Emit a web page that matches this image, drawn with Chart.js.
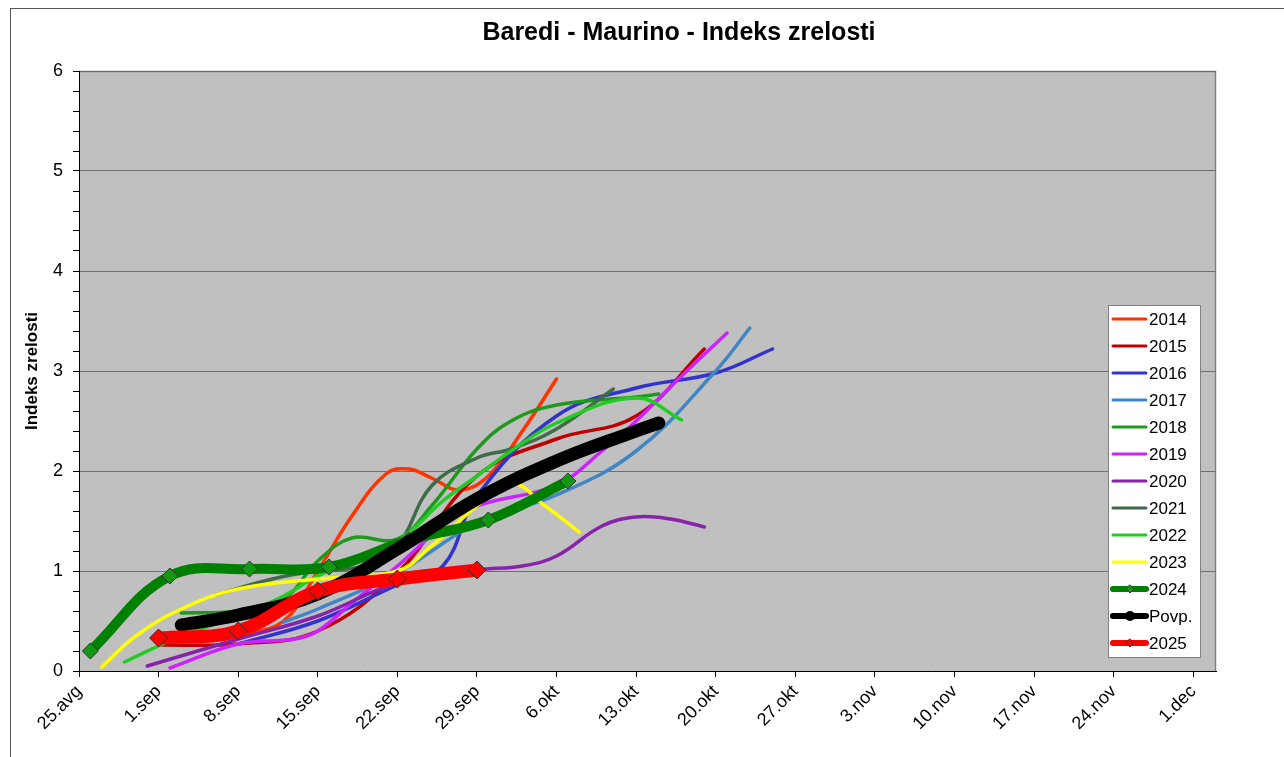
<!DOCTYPE html>
<html>
<head>
<meta charset="utf-8">
<script src="https://cdn.jsdelivr.net/npm/chart.js@4.4.1/dist/chart.umd.min.js"></script>
<style>
  html, body { margin: 0; padding: 0; background: #fff; overflow: hidden; }
  #frame { position: absolute; left: 10px; top: 8px; width: 1400px; height: 900px;
           border-left: 1px solid #555; border-top: 1px solid #555; }
  #chart { position: absolute; left: 0; top: 0; }
</style>
</head>
<body>
<div id="frame"></div>
<canvas id="chart" width="1284" height="757"></canvas>
<script>
// x = days after 25.avg, y = maturity index
const dayLabels = ['25.avg', '1.sep', '8.sep', '15.sep', '22.sep', '29.sep', '6.okt',
  '13.okt', '20.okt', '27.okt', '3.nov', '10.nov', '17.nov', '24.nov', '1.dec'];

const s2014 = [[14, 0.35], [18, 0.5], [21, 1.0], [24, 1.55], [27, 1.97], [29, 2.02], [31, 1.93],
  [33.5, 1.81], [36, 1.95], [39, 2.4], [42, 2.92]];
const s2015 = [[7, 0.26], [14, 0.27], [21, 0.4], [28, 0.98], [35, 1.95], [42, 2.32], [49, 2.55], [55, 3.22]];
const s2016 = [[14, 0.27], [21, 0.5], [28, 0.86], [32, 1.05], [35, 1.75], [42, 2.55], [49, 2.83],
  [56, 2.98], [61, 3.22]];
const s2017 = [[18, 0.49], [21, 0.62], [28, 0.98], [35, 1.48], [42, 1.76], [49, 2.2], [56, 3.0], [59, 3.43]];
const s2018 = [[9, 0.58], [14, 0.6], [18, 0.72], [21, 1.1], [24, 1.33], [28, 1.32], [31, 1.65],
  [35, 2.22], [38, 2.5], [42, 2.66], [49, 2.74], [51, 2.77]];
const s2019 = [[8, 0.03], [14, 0.27], [19, 0.32], [21, 0.4], [24, 0.68], [28, 1.05], [32, 1.45],
  [35, 1.65], [42, 1.86], [46, 2.2], [49, 2.5], [53, 2.95], [57, 3.38]];
const s2020 = [[6, 0.05], [14, 0.32], [21, 0.55], [28, 0.88], [35, 1.01], [39, 1.05], [42, 1.15],
  [46, 1.45], [49, 1.54], [52, 1.52], [55, 1.44]];
const s2021 = [[12, 0.76], [17, 0.92], [21, 1.0], [25, 1.05], [28, 1.25], [31, 1.85], [35, 2.13],
  [38, 2.22], [42, 2.42], [47, 2.82]];
const s2022 = [[4, 0.09], [9, 0.35], [14, 0.55], [18, 0.75], [21, 0.95], [28, 1.3], [32, 1.7],
  [35, 1.95], [38, 2.2], [42, 2.48], [49, 2.73], [53, 2.51]];
const s2023 = [[2, 0.04], [5, 0.35], [9, 0.62], [14, 0.82], [21, 0.92], [28, 1.0], [31, 1.25],
  [35, 1.65], [38, 1.88], [41, 1.65], [44, 1.39]];
const s2024 = [[1, 0.2], [8, 0.95], [15, 1.02], [22, 1.04], [29, 1.31], [36, 1.51], [43, 1.9]];
const sPovp = [[9, 0.46], [14, 0.56], [21, 0.77], [28, 1.22], [35, 1.72], [42, 2.1], [49, 2.4], [51, 2.48]];
const s2025 = [[7, 0.33], [14, 0.4], [21, 0.8], [28, 0.92], [35, 1.01]];

const series = [
  { label: '2014', points: s2014, color: '#FF3300', width: 3.5 },
  { label: '2015', points: s2015, color: '#C00000', width: 3.5 },
  { label: '2016', points: s2016, color: '#3333CC', width: 3.5 },
  { label: '2017', points: s2017, color: '#3F86C4', width: 3.5 },
  { label: '2018', points: s2018, color: '#1E991E', width: 3.5 },
  { label: '2019', points: s2019, color: '#CC22FF', width: 3.5 },
  { label: '2020', points: s2020, color: '#8822AA', width: 3.5 },
  { label: '2021', points: s2021, color: '#3E6B48', width: 3.5 },
  { label: '2022', points: s2022, color: '#22CC22', width: 3.5 },
  { label: '2023', points: s2023, color: '#FFFF00', width: 3.5 },
  { label: '2024', points: s2024, color: '#008000', width: 10, marker: 'rectRot', markerFill: '#119911', radius: 8 },
  { label: 'Povp.', points: sPovp, color: '#000000', width: 13, legendMarker: 'circle' },
  { label: '2025', points: s2025, color: '#FF0000', width: 13, marker: 'rectRot', markerFill: '#FF0000', radius: 9 },
];

const FONT = "'Liberation Sans', Arial, sans-serif";
const isInt = v => Math.abs(v - Math.round(v)) < 1e-6;

const plotBg = {
  id: 'plotBg',
  beforeDraw(chart) {
    const { ctx, chartArea: a } = chart;
    ctx.save();
    ctx.fillStyle = '#C0C0C0';
    ctx.fillRect(a.left, a.top, a.width, a.height);
    ctx.strokeStyle = '#808080';
    ctx.lineWidth = 1.5;
    ctx.beginPath();
    ctx.moveTo(a.left, a.top + 0.5);
    ctx.lineTo(a.right - 0.5, a.top + 0.5);
    ctx.lineTo(a.right - 0.5, a.bottom);
    ctx.stroke();
    ctx.restore();
  }
};

const titleAndLegend = {
  id: 'titleAndLegend',
  afterDraw(chart) {
    const { ctx, chartArea: a } = chart;
    ctx.save();
    ctx.fillStyle = '#000';
    ctx.font = 'bold 25px ' + FONT;
    ctx.textAlign = 'center';
    ctx.textBaseline = 'middle';
    ctx.fillText('Baredi - Maurino - Indeks zrelosti', 679, 33);

    // legend box inside plot
    const bx = a.right - 108, by = a.top + 234, bw = 92, bh = 352;
    ctx.fillStyle = '#fff';
    ctx.fillRect(bx, by, bw, bh);
    ctx.strokeStyle = '#808080';
    ctx.lineWidth = 1;
    ctx.strokeRect(bx + 0.5, by + 0.5, bw, bh);
    ctx.font = '17px ' + FONT;
    ctx.textAlign = 'left';
    series.forEach((s, i) => {
      const y = by + 14 + i * 27;
      ctx.strokeStyle = s.color;
      ctx.lineWidth = s.width > 4 ? 6 : 3;
      ctx.lineCap = 'round';
      ctx.beginPath();
      ctx.moveTo(bx + 5, y);
      ctx.lineTo(bx + 38, y);
      ctx.stroke();
      if (s.marker) {
        ctx.fillStyle = s.markerFill;
        ctx.strokeStyle = '#333';
        ctx.lineWidth = 1;
        ctx.beginPath();
        ctx.moveTo(bx + 22, y - 4); ctx.lineTo(bx + 26, y);
        ctx.lineTo(bx + 22, y + 4); ctx.lineTo(bx + 18, y);
        ctx.closePath(); ctx.fill(); ctx.stroke();
      } else if (s.legendMarker) {
        ctx.fillStyle = s.color;
        ctx.beginPath();
        ctx.arc(bx + 22, y, 5, 0, Math.PI * 2);
        ctx.fill();
      }
      ctx.fillStyle = '#000';
      ctx.fillText(s.label, bx + 41, y + 1);
    });
    ctx.restore();
  }
};

new Chart(document.getElementById('chart'), {
  type: 'line',
  plugins: [plotBg, titleAndLegend],
  data: {
    datasets: series.map((s, i) => ({
      label: s.label,
      data: s.points.map(([d, v]) => ({ x: d, y: v })),
      borderColor: s.color,
      backgroundColor: s.markerFill || s.color,
      borderWidth: s.width,
      borderCapStyle: 'round',
      borderJoinStyle: 'round',
      tension: 0.4,
      fill: false,
      pointStyle: s.marker || 'circle',
      pointRadius: s.marker ? s.radius : 0,
      pointBorderColor: '#333',
      pointBorderWidth: 1,
      pointBackgroundColor: s.markerFill || s.color,
      order: series.length - i,
    }))
  },
  options: {
    responsive: false,
    animation: false,
    devicePixelRatio: 1,
    layout: { padding: { top: 71, right: 68, left: 14, bottom: 0 } },
    plugins: {
      legend: { display: false },
      tooltip: { enabled: false },
      title: { display: false },
    },
    scales: {
      x: {
        type: 'linear',
        min: 0,
        max: 100,
        ticks: {
          stepSize: 7,
          includeBounds: false,
          autoSkip: false,
          minRotation: 45,
          maxRotation: 45,
          padding: 4,
          color: '#000',
          font: { family: FONT, size: 18 },
          callback: v => dayLabels[Math.round(v / 7)] || '',
        },
        grid: { drawOnChartArea: false, drawTicks: true, tickLength: 6, tickColor: '#000' },
        border: { color: '#000', width: 1 },
        afterFit: s => { s.height = 86; },
      },
      y: {
        min: 0,
        max: 6,
        ticks: {
          stepSize: 0.2,
          autoSkip: false,
          padding: 10,
          color: '#000',
          font: { family: FONT, size: 18 },
          callback: v => isInt(v) ? String(Math.round(v)) : '',
        },
        grid: {
          color: ctx => isInt(ctx.tick.value) ? '#6e6e6e' : 'rgba(0,0,0,0)',
          lineWidth: 1,
          drawTicks: true,
          tickLength: 6,
          tickColor: '#000',
        },
        border: { color: '#000', width: 1 },
        title: {
          display: true,
          text: 'Indeks zrelosti',
          color: '#000',
          font: { family: FONT, size: 17, weight: 'bold' },
          padding: { top: 8, bottom: 0 },
        },
        afterFit: s => { s.width = 65; },
      }
    }
  }
});
</script>
</body>
</html>
